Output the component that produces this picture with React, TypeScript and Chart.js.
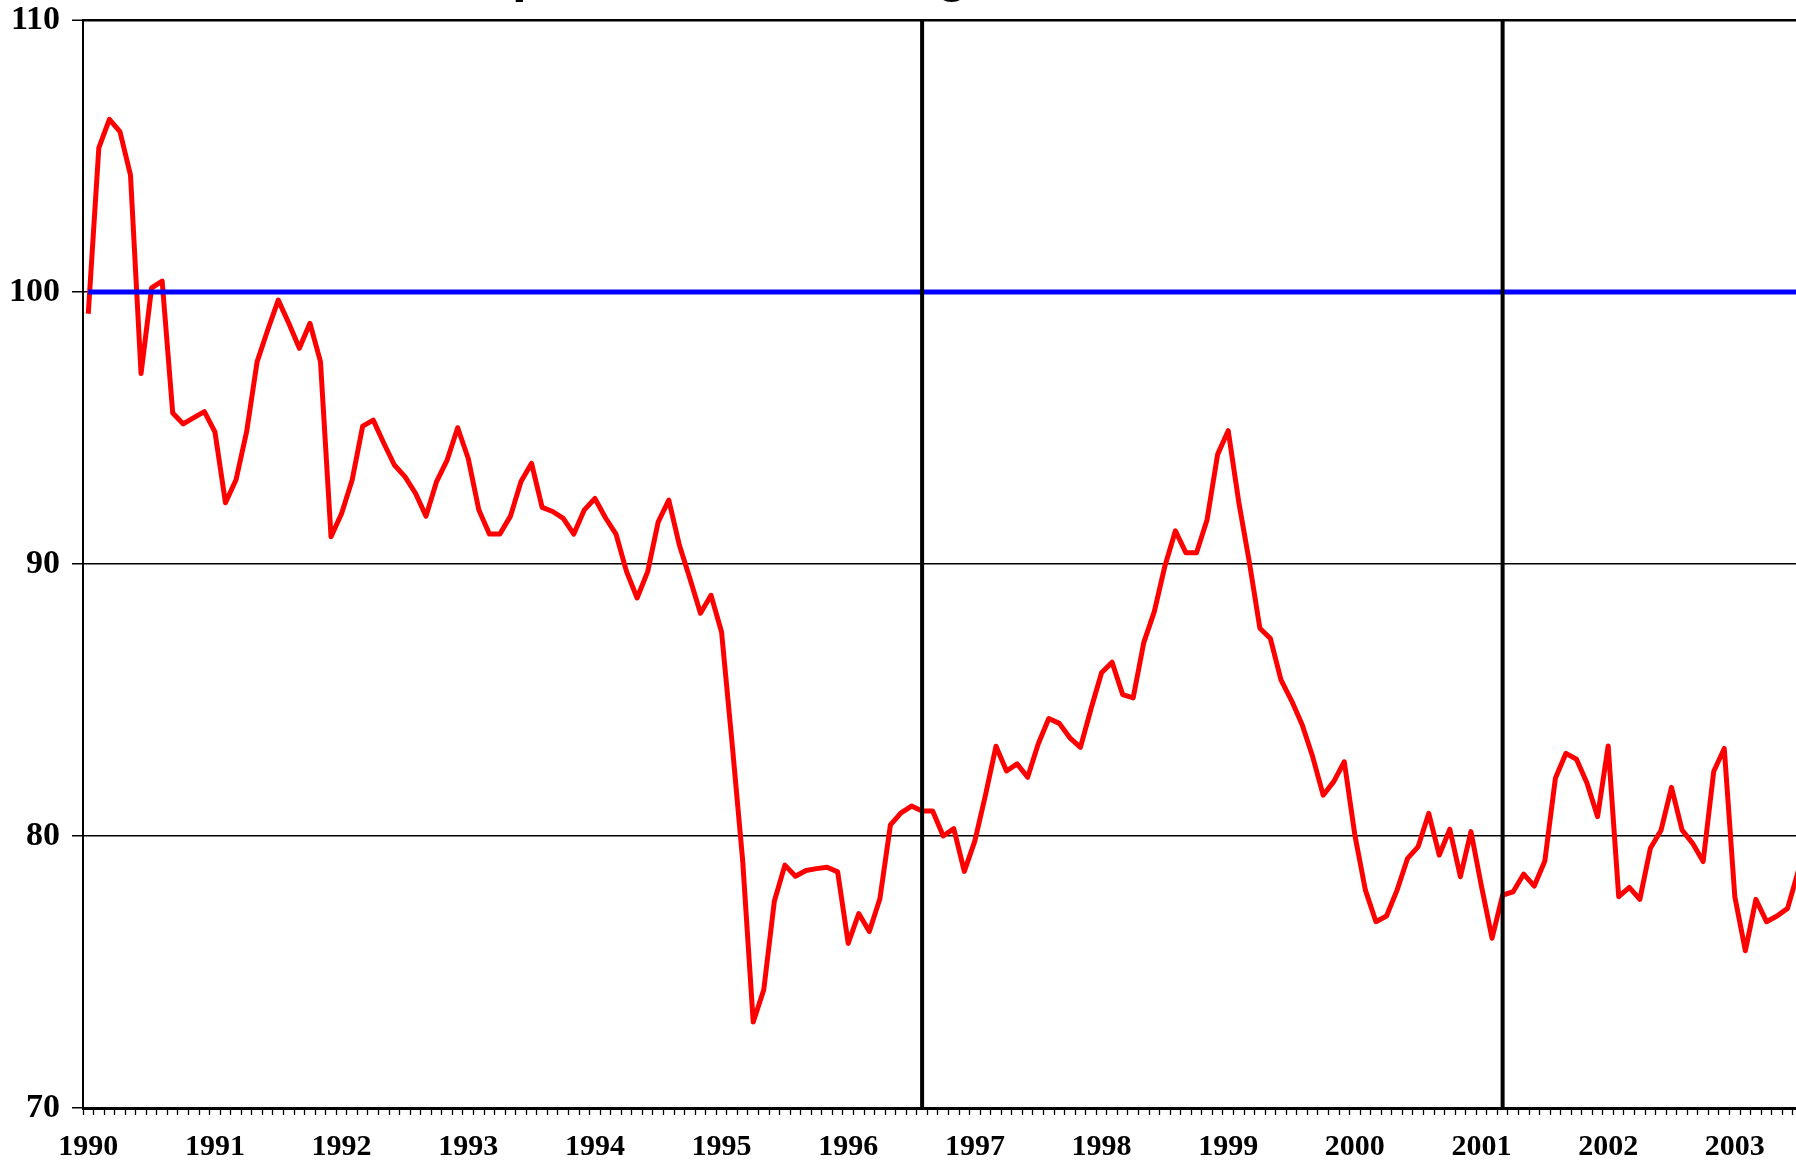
import React, { useEffect, useRef } from 'react';
import { Chart, registerables } from 'chart.js';

Chart.register(...registerables);

// ---------- data ----------
const TITLE = 'Japan Real Exchange Rate';
const YEAR_LABELS = ['1990', '1991', '1992', '1993', '1994', '1995', '1996', '1997', '1998', '1999', '2000', '2001', '2002', '2003'];
const Y_MIN = 70;
const Y_MAX = 110;
const Y_STEP = 10;
const BASELINE = 100;
const MARKER_MONTHS = ['1996-08', '2001-03'];

const RER_1990 = [99.2, 105.3, 106.35, 105.9, 104.3, 97.0, 100.15, 100.4, 95.55, 95.15, 95.38, 95.6];
const RER_1991 = [94.86, 92.25, 93.1, 94.86, 97.44, 98.6, 99.7, 98.85, 97.93, 98.85, 97.44, 91.0];
const RER_1992 = [91.86, 93.09, 95.07, 95.29, 94.44, 93.64, 93.21, 92.6, 91.76, 93.03, 93.82, 95.01];
const RER_1993 = [93.88, 91.99, 91.1, 91.1, 91.76, 93.03, 93.7, 92.08, 91.93, 91.68, 91.1, 91.99];
const RER_1994 = [92.41, 91.7, 91.1, 89.72, 88.75, 89.72, 91.55, 92.35, 90.7, 89.47, 88.19, 88.85];
const RER_1995 = [87.5, 83.4, 79.1, 73.16, 74.35, 77.6, 78.93, 78.52, 78.73, 78.8, 78.85, 78.68];
const RER_1996 = [76.05, 77.15, 76.49, 77.69, 80.41, 80.85, 81.1, 80.92, 80.92, 80.0, 80.27, 78.7];
const RER_1997 = [79.82, 81.5, 83.3, 82.39, 82.65, 82.16, 83.38, 84.32, 84.14, 83.61, 83.26, 84.67];
const RER_1998 = [86.0, 86.39, 85.2, 85.08, 87.11, 88.25, 89.92, 91.22, 90.41, 90.41, 91.63, 94.03];
const RER_1999 = [94.9, 92.28, 90.08, 87.64, 87.26, 85.74, 84.98, 84.1, 82.92, 81.5, 82.0, 82.73];
const RER_2000 = [80.04, 78.01, 76.85, 77.06, 78.01, 79.18, 79.61, 80.83, 79.3, 80.25, 78.5, 80.16];
const RER_2001 = [78.14, 76.24, 77.83, 77.95, 78.6, 78.16, 79.08, 82.12, 83.04, 82.82, 81.94, 80.71];
const RER_2002 = [83.31, 77.77, 78.11, 77.67, 79.55, 80.2, 81.79, 80.22, 79.73, 79.06, 82.37, 83.22];
const RER_2003 = [77.77, 75.78, 77.67, 76.85, 77.06, 77.34, 78.7, 79.8];

const RER_SERIES = [
  ...RER_1990, ...RER_1991, ...RER_1992, ...RER_1993, ...RER_1994, ...RER_1995, ...RER_1996,
  ...RER_1997, ...RER_1998, ...RER_1999, ...RER_2000, ...RER_2001, ...RER_2002, ...RER_2003,
];

const MONTH_LABELS: string[] = [];
YEAR_LABELS.forEach((y) => {
  for (let m = 1; m <= 12; m++) MONTH_LABELS.push(`${y}-${String(m).padStart(2, '0')}`);
});

// ---------- layout ----------
const CANVAS_W = 1870;
const CANVAS_H = 1230;
const CANVAS_TOP = -40;

const markerPlugin = {
  id: 'markers',
  afterDatasetsDraw(chart: any) {
    const { ctx, chartArea, scales } = chart;
    ctx.save();
    ctx.strokeStyle = '#000000';
    ctx.lineWidth = 4;
    MARKER_MONTHS.forEach((m) => {
      const x = scales.x.getPixelForValue(MONTH_LABELS.indexOf(m));
      ctx.beginPath();
      ctx.moveTo(x, chartArea.top);
      ctx.lineTo(x, chartArea.bottom);
      ctx.stroke();
    });
    ctx.restore();
  },
};

const titlePlugin = {
  id: 'cutTitle',
  afterDraw(chart: any) {
    const { ctx } = chart;
    ctx.save();
    ctx.font = 'bold 53px "Liberation Sans", Arial, sans-serif';
    ctx.fillStyle = '#000000';
    ctx.textAlign = 'left';
    ctx.textBaseline = 'alphabetic';
    ctx.fillText(TITLE, 453, 31);
    ctx.restore();
  },
};

export default function App() {
  const ref = useRef<HTMLCanvasElement | null>(null);

  useEffect(() => {
    if (!ref.current) return;
    const chart = new Chart(ref.current, {
      type: 'line',
      data: {
        labels: MONTH_LABELS,
        datasets: [
          {
            label: 'Base',
            data: [
              { x: MONTH_LABELS[0], y: BASELINE },
              { x: MONTH_LABELS[MONTH_LABELS.length - 1], y: BASELINE },
            ] as any,
            borderColor: '#0000FF',
            borderWidth: 5,
            pointRadius: 0,
            tension: 0,
          },
          {
            label: 'Index',
            data: RER_SERIES,
            borderColor: '#FF0000',
            borderWidth: 5,
            pointRadius: 0,
            tension: 0,
            borderJoinStyle: 'round',
          },
        ],
      },
      options: {
        animation: false,
        responsive: false,
        devicePixelRatio: 1,
        layout: { padding: { top: 60, left: 0, right: 13.8, bottom: 0 } },
        plugins: {
          legend: { display: false },
          tooltip: { enabled: false },
          title: { display: false },
        },
        scales: {
          x: {
            type: 'category',
            offset: true,
            grid: {
              offset: true,
              drawOnChartArea: false,
              drawTicks: true,
              tickLength: 7,
              tickWidth: 1.3,
              tickColor: '#000000',
            },
            border: { display: true, color: '#000000', width: 3 },
            ticks: {
              autoSkip: false,
              maxRotation: 0,
              minRotation: 0,
              padding: 14,
              color: '#000000',
              font: { family: '"Liberation Serif", "Times New Roman", serif', weight: 'bold', size: 30 },
              callback: (_v: any, index: number) => {
                const lab = MONTH_LABELS[index];
                return lab && lab.endsWith('-01') ? lab.slice(0, 4) : '';
              },
            },
            afterFit: (scale: any) => {
              scale.height = 82;
            },
          },
          y: {
            min: Y_MIN,
            max: Y_MAX,
            grid: {
              color: '#000000',
              lineWidth: (ctx: any) => (ctx.tick && ctx.tick.value === Y_MAX ? 2.5 : 1.5),
              drawTicks: true,
              tickLength: 11,
              tickWidth: 1.5,
              tickColor: '#000000',
            },
            border: { display: true, color: '#000000', width: 2 },
            ticks: {
              stepSize: Y_STEP,
              padding: 12,
              color: '#000000',
              font: { family: '"Liberation Serif", "Times New Roman", serif', weight: 'bold', size: 34 },
            },
            afterFit: (scale: any) => {
              scale.width = 83;
            },
          },
        },
      },
      plugins: [markerPlugin, titlePlugin],
    });
    return () => chart.destroy();
  }, []);

  return (
    <div
      style={{
        position: 'fixed',
        left: 0,
        top: 0,
        width: '100vw',
        height: '100vh',
        overflow: 'hidden',
        background: '#ffffff',
      }}
    >
      <canvas
        ref={ref}
        width={CANVAS_W}
        height={CANVAS_H}
        style={{ position: 'absolute', left: 0, top: CANVAS_TOP, width: CANVAS_W, height: CANVAS_H }}
      />
    </div>
  );
}
